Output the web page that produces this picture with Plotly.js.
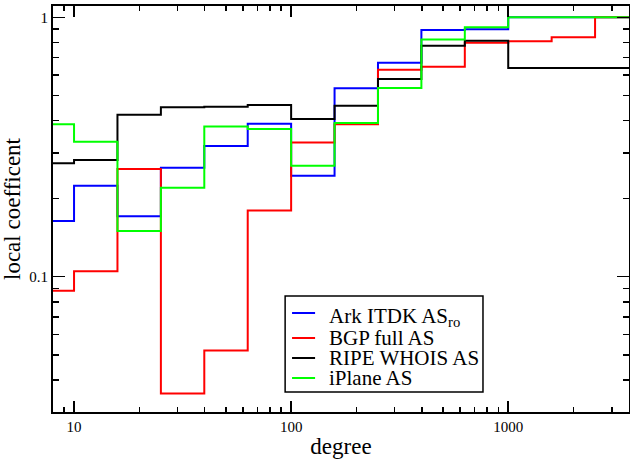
<!DOCTYPE html>
<html>
<head>
<meta charset="utf-8">
<script src="https://cdn.plot.ly/plotly-3.0.1.min.js"></script>
<style>html,body{margin:0;padding:0;background:#fff;}#chart{width:630px;height:459px;}</style>
</head>
<body>
<div id="chart"></div>
<script>
// Bin edges (degree), log-spaced at 0.2 decades
const binEdges = [6.31, 10, 15.85, 25.12, 39.81, 63.1, 100, 158.5, 251.2, 398.1, 631, 1000, 1585, 2512, 3981];
// Local coefficient per bin
const arkITDK   = [0.164, 0.224, 0.171, 0.263, 0.319, 0.389, 0.245, 0.532, 0.668, 0.893, 0.899, 1.0, 1.0, 1.0];
const bgpFull   = [0.0883, 0.105, 0.260, 0.0355, 0.052, 0.180, 0.329, 0.387, 0.628, 0.645, 0.798, 0.808, 0.837, 1.0];
const ripeWhois = [0.274, 0.282, 0.421, 0.450, 0.452, 0.459, 0.405, 0.456, 0.578, 0.777, 0.812, 0.638, 0.638, 0.638];
const iPlane    = [0.387, 0.331, 0.150, 0.220, 0.379, 0.371, 0.268, 0.391, 0.534, 0.820, 0.915, 1.0, 1.0, 1.0];

const seriesNames = ['Ark ITDK AS<sub>ro</sub>', 'BGP full AS', 'RIPE WHOIS AS', 'iPlane AS'];
const seriesColors = ['#0000ff', '#ff0000', '#000000', '#00ff00'];
const seriesValues = [arkITDK, bgpFull, ripeWhois, iPlane];

const xTickVals = [10, 100, 1000];
const xTickText = ['10', '100', '1000'];
const xMinor = [9, 20, 30, 40, 50, 60, 70, 80, 90, 200, 300, 400, 500, 600, 700, 800, 900, 2000, 3000];
const yTickVals = [0.1, 1];
const yTickText = ['0.1', '1'];
const yMinor = [0.04, 0.05, 0.06, 0.07, 0.08, 0.09, 0.2, 0.3, 0.4, 0.5, 0.6, 0.7, 0.8, 0.9];

const traces = seriesValues.map((vals, i) => ({
  x: binEdges,
  y: vals.concat([vals[vals.length - 1]]),
  type: 'scatter',
  mode: 'lines',
  line: {shape: 'hv', color: seriesColors[i], width: 2},
  name: seriesNames[i],
  showlegend: false,
  hoverinfo: 'skip'
}));

// custom legend (paper coords)
const legX0 = 0.403, legX1 = 0.7465, legY0 = 0.049, legY1 = 0.2857;
const legRowY = [0.2438, 0.1823, 0.133, 0.0837];
const shapes = [{
  type: 'rect', xref: 'paper', yref: 'paper', x0: legX0, x1: legX1, y0: legY0, y1: legY1,
  line: {color: '#000', width: 1.5}, fillcolor: '#fff', layer: 'above'
}];
const annotations = [];
seriesNames.forEach((n, i) => {
  shapes.push({type: 'line', xref: 'paper', yref: 'paper', x0: 0.415, x1: 0.455, y0: legRowY[i], y1: legRowY[i],
    line: {color: seriesColors[i], width: 2}, layer: 'above'});
  annotations.push({xref: 'paper', yref: 'paper', x: 0.4757, y: legRowY[i] + (i === 0 ? -0.01 : 0), xanchor: 'left', yanchor: 'middle',
    text: n, showarrow: false, font: {family: 'Liberation Serif', size: 21, color: '#000'}});
});

const layout = {
  width: 630, height: 459,
  margin: {l: 53, r: 1, t: 6, b: 47},
  paper_bgcolor: '#fff', plot_bgcolor: '#fff',
  font: {family: 'Liberation Serif', color: '#000'},
  xaxis: {
    type: 'log', range: [Math.log10(8.0), Math.log10(3600)],
    tickvals: xTickVals, ticktext: xTickText,
    ticks: 'inside', ticklen: 11, tickwidth: 1.5, tickcolor: '#000',
    minor: {tickvals: xMinor, ticks: 'inside', ticklen: 5, tickwidth: 1.5, tickcolor: '#000', showgrid: false},
    showline: true, linewidth: 2, linecolor: '#000', mirror: 'allticks',
    showgrid: false, zeroline: false,
    tickfont: {family: 'Liberation Serif', size: 15, color: '#000'},
    title: {text: 'degree', font: {family: 'Liberation Serif', size: 23, color: '#000'}, standoff: 4},
    automargin: false
  },
  yaxis: {
    type: 'log', range: [Math.log10(0.0301), Math.log10(1.105)],
    tickvals: yTickVals, ticktext: yTickText,
    ticks: 'inside', ticklen: 12, tickwidth: 1.5, tickcolor: '#000',
    minor: {tickvals: yMinor, ticks: 'inside', ticklen: 6, tickwidth: 1.5, tickcolor: '#000', showgrid: false},
    showline: true, linewidth: 2, linecolor: '#000', mirror: 'allticks',
    showgrid: false, zeroline: false,
    tickfont: {family: 'Liberation Serif', size: 15, color: '#000'},
    title: {text: 'local coefficent', font: {family: 'Liberation Serif', size: 23, color: '#000'}, standoff: 2},
    automargin: false
  },
  shapes: shapes,
  annotations: annotations,
  showlegend: false
};

Plotly.newPlot('chart', traces, layout, {displayModeBar: false, staticPlot: true});
</script>
</body>
</html>
